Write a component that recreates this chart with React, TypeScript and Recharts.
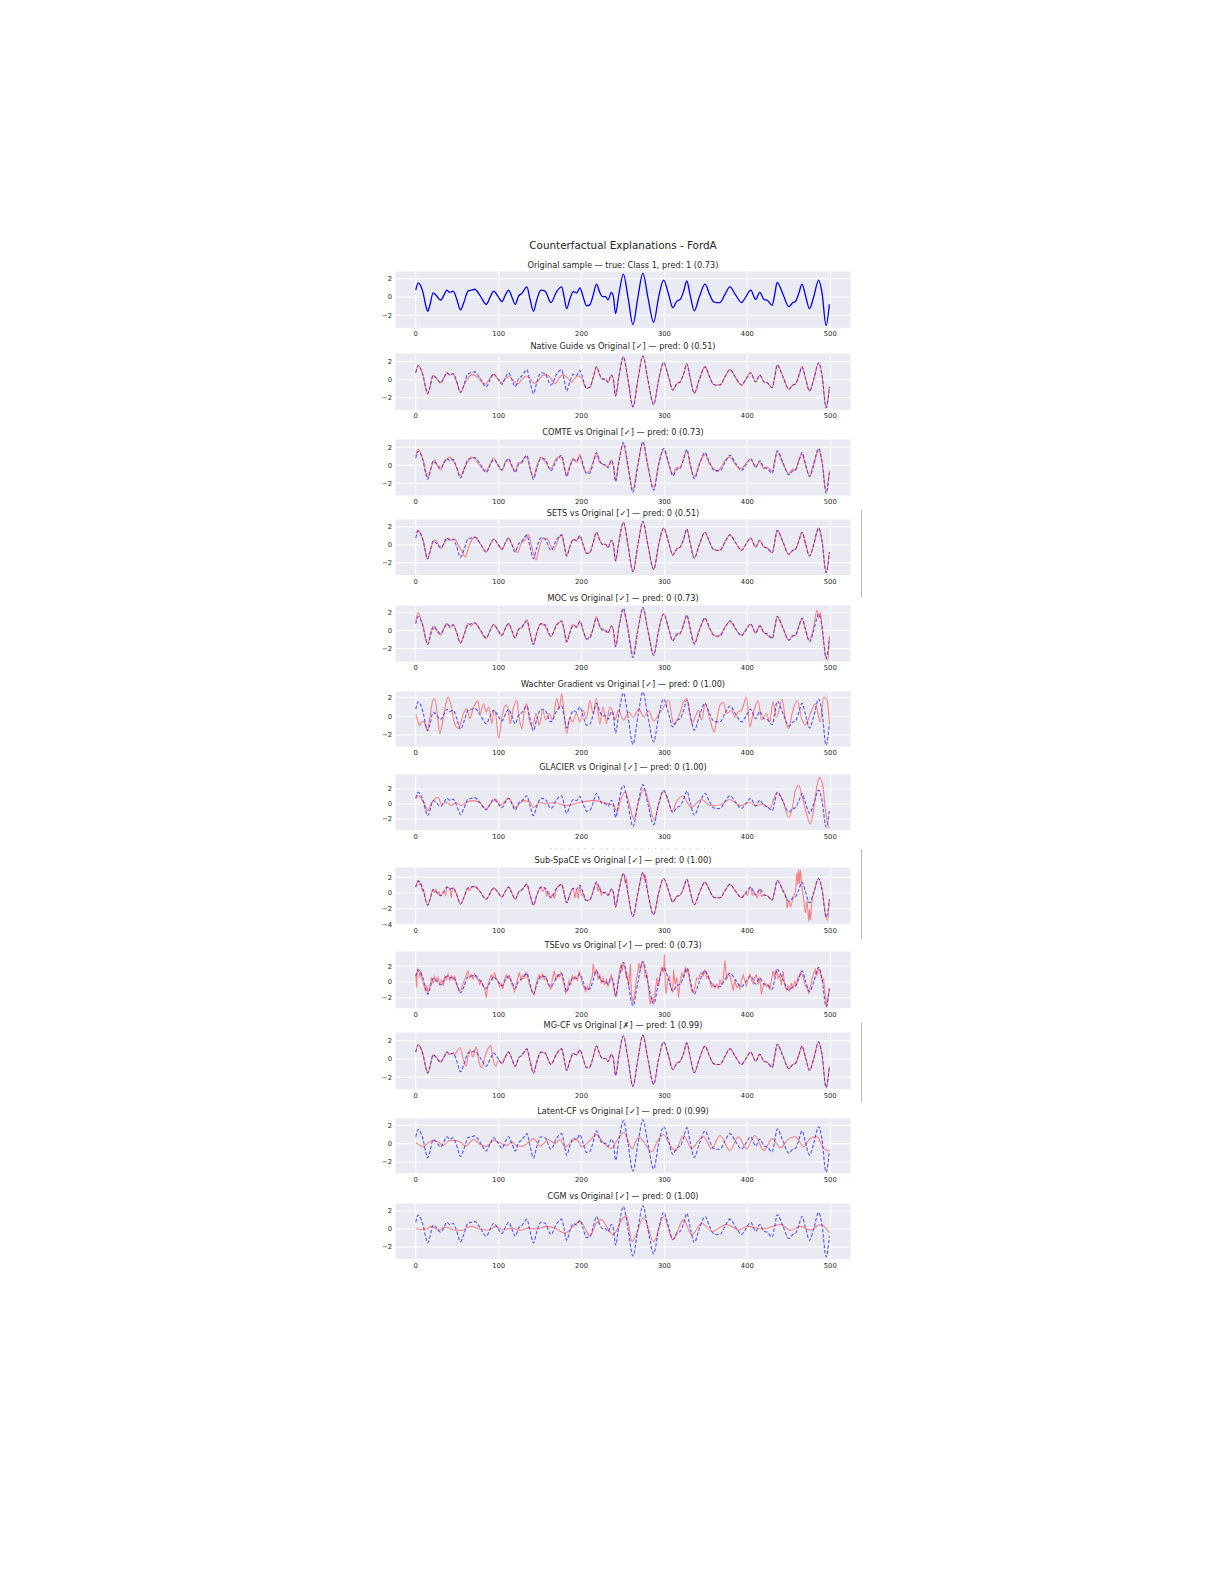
import React from 'react';
import { LineChart, Line, XAxis, YAxis, CartesianGrid } from 'recharts';

type P = [number, number];

// ---------- data (x = time step, y = value) ----------
const original: P[] = [
  [0, 0.75], [3, 1.55], [6, 1.2], [9, 0.4], [12, -0.9], [14.5, -1.55], [17, -0.9], [21, 0.45], [25, 0.15], [30, -0.35],
  [34, 0.2], [37.5, 0.75], [41, 0.5], [45, 0.65], [49, -0.1], [54, -1.4], [58, -0.6], [63, 0.65], [67, 0.75], [71, 0.85],
  [78, 0.1], [85, -0.8], [90, 0.05], [94, 0.65], [99, 0.1], [104, -0.5], [108, 0.2], [112, 0.75], [116, 0], [120, -0.8],
  [124, 0.1], [128, 0.4], [131, 0.8], [134, 1.1], [138, -0.3], [142, -1.55], [146, -0.3], [151, 0.75], [156, 0.65], [163, -0.6],
  [170, 0.6], [176, 1.1], [179, 0], [182, -1.25], [186, -0.2], [190, 0.6], [194, 0.45], [198, 1.0], [202, 0], [206, -0.95],
  [210, -0.85], [214, 0.2], [218, 1.4], [222, 0.5], [225, 0.05], [229, 0.05], [232, -0.3], [236, 0.5], [238.5, 0], [241, -1.8],
  [245, 0.3], [250.5, 2.5], [256, 0], [262, -3.0], [268, 0], [274, 2.6], [280, 0], [287, -2.75], [293, 0], [299, 1.85],
  [305, 0.3], [310, -1.15], [315, -0.45], [319, -0.25], [323, 0.6], [327, 1.75], [331, 0.2], [336, -1.5], [342, 0], [349, 1.4],
  [354, 0.4], [359, -0.5], [363, -0.6], [367, -0.6], [373, 0.3], [379, 1.1], [386, 0.2], [393, -0.6], [398, 0], [404, 0.75],
  [410, -0.25], [415, 0.5], [420, -0.25], [424, -0.35], [430, -0.9], [433, 0.3], [436, 1.6], [443, 0.3], [450, -1.05], [455, -0.6],
  [458, -0.5], [462, 0.4], [466, 1.4], [470, 0.2], [475, -1.25], [480, 0], [486, 1.85], [490, 0.5], [495, -3.1], [499, -0.8],
];

// Native Guide: differs from the original between ~60 and ~206
const nativeGuideSegment: P[] = [
  [60, -0.3], [64, 0.3], [69, 0.55], [74, 0.3], [79, -0.2], [84, -0.5], [89, 0.1], [93, 0.55], [98, 0.2], [103, -0.35],
  [108, 0.1], [113, 0.35], [118, -0.15], [123, -0.45], [128, 0], [133, 0.4], [138, 0.1], [143, -0.4], [148, -0.1], [153, 0.45],
  [158, 0.55], [163, 0.1], [168, -0.45], [173, 0.2], [178, 0.55], [183, 0.2], [188, -0.3], [193, 0.3], [198, 0.4], [202, -0.3],
  [206, -0.95],
];

const comte: P[] = [
  [0, 1.0], [3, 1.8], [6, 1.3], [9, 0.6], [12, -0.6], [14.5, -1.3], [17, -0.7], [21, 0.3], [23, 0.6], [25, 0.2],
  [30, -0.5], [34, 0.4], [37.5, 0.6], [41, 0.9], [45, 0.5], [49, -0.2], [54, -1.2], [58, -0.4], [63, 0.4], [67, 0.9],
  [71, 0.7], [78, -0.1], [85, -0.6], [90, 0.2], [94, 0.8], [99, 0], [104, -0.6], [108, 0.4], [112, 0.6], [116, -0.2],
  [120, -0.6], [124, 0.3], [128, 0.2], [131, 0.9], [134, 0.9], [138, -0.5], [142, -1.3], [146, -0.1], [151, 0.9], [156, 0.4],
  [163, -0.4], [170, 0.8], [176, 0.9], [179, -0.2], [182, -1.0], [186, 0], [190, 0.8], [194, 0.3], [198, 1.2], [202, -0.2],
  [206, -0.8], [210, -0.6], [214, 0.4], [218, 1.2], [222, 0.3], [225, 0.2], [229, -0.1], [232, -0.1], [236, 0.6], [238.5, -0.2],
  [241, -1.6], [245, 0.5], [250.5, 2.3], [256, -0.2], [262, -2.7], [268, 0.2], [274, 2.4], [280, -0.2], [287, -2.5], [293, 0.2],
  [299, 1.7], [305, 0.1], [310, -1.0], [315, -0.2], [319, -0.4], [323, 0.8], [327, 1.6], [331, 0], [336, -1.3], [342, 0.2],
  [349, 1.2], [354, 0.2], [359, -0.3], [363, -0.7], [367, -0.4], [373, 0.5], [379, 0.9], [386, 0], [393, -0.4], [398, 0.2],
  [404, 0.6], [410, -0.1], [415, 0.3], [420, -0.4], [424, -0.2], [430, -0.7], [433, 0.5], [436, 1.4], [443, 0.1], [450, -0.9],
  [455, -0.4], [458, -0.6], [462, 0.6], [466, 1.2], [470, 0], [475, -1.1], [480, 0.2], [486, 1.7], [490, 0.3], [495, -2.8],
  [499, -0.6],
];

// SETS: shifted start segment, identical to the original after ~182
const setsSegment: P[] = [
  [0, 1.3], [2.5, 1.6], [6, 1.1], [9, 0.5], [11.5, -0.6], [13.5, -1.6], [17, -0.8], [20, 0.1], [23, 0.55], [27, 0.1],
  [31, -0.35], [35, 0.2], [39, 0.75], [43, 0.5], [47, 0.65], [51, 0], [55, -0.6], [60, -1.35], [64, -0.2], [68, 0.6],
  [71, 0.85], [78, 0.1], [85, -0.8], [90, 0.05], [94, 0.65], [99, 0.1], [104, -0.5], [108, 0.2], [112, 0.75], [116, 0],
  [120, -0.6], [123, -0.85], [127, 0.1], [131, 0.5], [136, 1.1], [140, -0.3], [145, -1.7], [149, -0.3], [154, 0.75], [159, 0.65],
  [166, -0.6], [172, 0.6], [176, 1.1], [179, 0], [182, -1.25],
];

const moc: P[] = [
  [0, 1.0], [3, 2.0], [6, 1.3], [9, 0.4], [12, -0.9], [14.5, -1.5], [17, -0.7], [19, 0.2], [21, 0.1], [23, 0.5],
  [25, 0.0], [30, -0.5], [34, 0.3], [37.5, 0.8], [41, 0.3], [45, 0.7], [49, -0.1], [54, -1.4], [58, -0.5], [63, 0.8],
  [67, 0.5], [71, 0.9], [78, 0.0], [85, -0.9], [90, 0.1], [94, 0.7], [99, 0.0], [104, -0.6], [108, 0.3], [112, 0.8],
  [116, -0.1], [120, -0.8], [124, 0.2], [128, 0.3], [131, 0.8], [134, 1.2], [138, -0.3], [142, -1.5], [146, -0.2], [151, 0.8],
  [156, 0.5], [163, -0.7], [170, 0.7], [176, 1.0], [179, 0.1], [182, -1.3], [186, -0.1], [190, 0.7], [194, 0.3], [198, 1.1],
  [202, 0.0], [206, -0.9], [210, -0.7], [214, 0.3], [218, 1.6], [222, 0.4], [225, 0.2], [229, -0.1], [232, -0.2], [236, 0.5],
  [238.5, -0.1], [241, -1.8], [245, 0.4], [250.5, 2.3], [253, 1.5], [256, 0.3], [262, -2.6], [268, 0.2], [274, 2.4], [280, 0.1],
  [287, -2.6], [293, 0.1], [299, 1.9], [305, 0.2], [310, -1.1], [315, -0.3], [319, -0.4], [323, 0.7], [327, 1.6], [331, 0.3],
  [336, -1.4], [342, 0.1], [349, 1.3], [354, 0.3], [359, -0.4], [363, -0.7], [367, -0.5], [373, 0.4], [379, 1.0], [386, 0.1],
  [393, -0.5], [398, 0.1], [404, 0.7], [410, -0.3], [415, 0.6], [420, -0.2], [424, -0.5], [430, -0.8], [433, 0.3], [436, 1.5],
  [443, 0.2], [450, -1.1], [455, -0.5], [458, -0.6], [462, 0.5], [466, 1.3], [470, 0.1], [475, -1.1], [480, 0.4], [484, 2.3],
  [486, 1.4], [488, 2.0], [490, 0.3], [495, -3.0], [497, -3.3], [499, -0.6],
];

const wachter: P[] = [
  [0, 0.2], [2, -0.3], [4.5, -1.0], [7, -0.6], [9.5, -0.55], [12, -1.1], [14, -1.5], [17, -0.2], [21, 1.8], [23, 1.9],
  [26, 0.2], [29, -1.85], [33, -0.3], [36, 1.2], [39, 2.05], [43, 1.0], [46, -0.5], [49, -1.15], [51.5, -1.3], [55, -0.5],
  [57.5, 0.3], [62, 0.8], [65, -0.25], [69.6, 0.9], [75, 1.65], [77.6, 0.3], [82, 1.35], [85, 0.45], [88, 1.0], [92, -0.8],
  [94.5, 0.7], [97, -0.1], [100, -2.4], [104, -0.1], [108, 1.2], [111, 1.0], [114, -0.8], [118, 1.0], [122, 1.7], [124, 0.3],
  [128, -1.3], [131, 0.6], [134, 1.35], [137, -0.4], [141, -1.15], [145, 0.3], [149, -0.95], [153, 0.65], [157, -0.4], [161, 0.3],
  [165, -0.4], [170, 1.9], [173, 0.8], [176, 2.4], [179, 0.3], [182, -1.85], [186, -0.1], [189, -0.6], [194, 0.3], [198, -0.6],
  [202, 0.65], [206, -0.25], [210, 1.7], [214, 0.3], [218, 1.9], [222, -0.8], [226, 1.0], [230, -0.8], [234, 1.0], [238.5, 0.3],
  [240.5, -0.4], [244.5, 0.65], [250.6, -0.4], [257, 0.45], [262.6, -0.1], [269, 0.8], [275, -0.1], [281, 0.6], [287, -0.5], [293, 0.2],
  [299, 1.0], [305, 1.7], [311, -0.8], [317, -0.1], [323, 1.5], [327, 1.9], [333, -0.8], [337, -0.1], [341, 0.65], [345, -0.4],
  [349, 1.35], [355, -0.4], [360, -1.7], [363, -0.4], [367, 1.2], [371, 1.5], [375, 0.3], [381, 0.65], [385, -0.1], [389, 0.5],
  [393, 0.65], [399, 2.05], [403, -1.15], [407, 0.3], [413, 1.7], [417, -0.4], [423, 0.3], [427, -0.6], [431, 1.55], [435, -0.1],
  [442, 1.8], [446, -0.4], [450, -1.3], [454, 0.3], [460, 1.7], [466, -0.4], [470, -0.95], [476, 0.3], [482, 1.35], [488, -0.6],
  [492, 2.05], [496, 1.8], [499, -0.8],
];

const glacier: P[] = [
  [0, 0.65], [3, 1.1], [7, 0.65], [10, 0.2], [14.5, -0.9], [18, -0.1], [21, 0.45], [27, 0.9], [31, 0], [37, 0.2],
  [43, -0.2], [49, 0.2], [55, -0.2], [61, 0.2], [69, 0.45], [77, 0.2], [85, -0.65], [90, 0], [96, 0.65], [102, -0.2],
  [112, 0.75], [120, -0.45], [130, 0.45], [138, 0.2], [142, -0.45], [150, 0.2], [158, 0], [166, 0.2], [182, -0.2], [198, 0.2],
  [214, 0.45], [230, 0.1], [238.5, -0.2], [243, -1.1], [247, 0.5], [252.6, 1.6], [257, 0.3], [263, -2.0], [268, 0], [275, 2.0],
  [281, 0.3], [287.6, -2.2], [293, 0], [299, 1.7], [305, 0.3], [309, -1.0], [314, 0.2], [322, 1.1], [332, -0.45], [345, 0.6],
  [355, -0.2], [368, -0.1], [378, 0.6], [392, -0.2], [402, 0.2], [411, -0.2], [419, 0], [427, -0.6], [435.6, 1.5], [442, 0.7],
  [450, -1.8], [454, -0.65], [458, 1.8], [462, 2.45], [466, 1.1], [472, -1.55], [476, -2.65], [480, -0.65], [484, 2.45], [487, 3.55],
  [491, 2.45], [494, -0.65], [497, -2.65], [499, -3.25],
];

const subSpace: P[] = [
  [0, 0.75], [3, 1.55], [5, 1.0], [6, 1.2], [8, 0.2], [9, 0.5], [12, -0.9], [14.5, -1.55], [17, -0.9], [21, 0.45],
  [23, 0.0], [24, 0.5], [25, 0.15], [27, -0.2], [28, 0.2], [30, -0.35], [34, 0.2], [36, -0.3], [37.5, 0.75], [41, 0.5],
  [43, -0.6], [44, 0.4], [45, 0.65], [49, -0.1], [54, -1.4], [58, -0.6], [63, 0.65], [65, 0.3], [67, 0.75], [71, 0.85],
  [78, 0.1], [85, -0.8], [90, 0.05], [94, 0.65], [99, 0.1], [104, -0.5], [108, 0.2], [112, 0.75], [116, 0], [120, -0.8],
  [124, 0.1], [128, 0.4], [134, 1.1], [138, -0.3], [142, -1.55], [146, -0.3], [151, 0.75], [153, 0.2], [156, 0.65], [158, -0.4],
  [160, 0.2], [163, -0.6], [165, -0.1], [167, -0.7], [170, 0.6], [176, 1.1], [179, 0], [182, -1.25], [186, -0.2], [190, 0.6],
  [192, -0.6], [194, 0.45], [196, -0.7], [198, 1.0], [200, -0.3], [202, 0], [204, -0.9], [206, -0.95], [210, -0.85], [214, 0.2],
  [218, 1.4], [220, 0.2], [222, 0.8], [224, -0.3], [225, 0.05], [229, 0.05], [232, -0.3], [236, 0.5], [238.5, 0], [241, -1.8],
  [245, 0.3], [250.5, 2.5], [253, 1.2], [254, 1.9], [256, 0], [262, -3.0], [268, 0], [274, 2.6], [276, 1.6], [277, 2.3],
  [280, 0], [287, -2.75], [293, 0], [299, 1.85], [305, 0.3], [310, -1.15], [315, -0.45], [319, -0.25], [323, 0.6], [327, 1.75],
  [331, 0.2], [336, -1.5], [342, 0], [349, 1.4], [354, 0.4], [359, -0.5], [363, -0.6], [367, -0.6], [373, 0.3], [379, 1.1],
  [386, 0.2], [393, -0.6], [398, 0], [400, -0.3], [402, 0.4], [404, 0.75], [406, -0.3], [408, 0.2], [410, -0.25], [412, -0.6],
  [415, 0.5], [417, -0.4], [420, -0.25], [424, -0.35], [430, -0.9], [433, 0.3], [436, 1.6], [443, 0.3], [447, -0.5], [448, -2.0],
  [450, -1.0], [452, -1.8], [455, -0.6], [458, 0.2], [460, 2.6], [461, 1.0], [462, 3.0], [463, 1.2], [464, 2.9], [466, 0.5],
  [468, -0.8], [470, -2.5], [472, -1.0], [474, -3.6], [475, -2.0], [476, -3.4], [478, -1.0], [480, 0], [486, 1.85], [490, 0.5],
  [495, -3.1], [497, -3.5], [499, -0.8],
];

const tsevo: P[] = [
  [0, 1.0], [1, -0.7], [2, 1.6], [4, 1.2], [5, 0.5], [6, 1.4], [8, 0.2], [10, -0.5], [12, -1.2], [13, -0.4],
  [15, -1.3], [17, -0.6], [19, 0.6], [21, -0.2], [23, 0.7], [25, 0.1], [27, 0.6], [29, -0.3], [31, 0.2], [33, -0.5],
  [35, 0.7], [37, 0.3], [39, 1.0], [41, 0.2], [43, 0.8], [45, 0.3], [47, 0.7], [49, -0.3], [51, -0.8], [53, -1.2],
  [55, -0.9], [57, -0.2], [59, 0.3], [61, 0.9], [63, 1.4], [65, 0.5], [67, 0.9], [69, 0.4], [71, 1.0], [73, 0.5],
  [75, 0.3], [77, -0.3], [79, 0.2], [81, -0.5], [83, -0.8], [85, -2.0], [87, -0.4], [89, 0.3], [91, 0.9], [93, 0.3],
  [95, 1.2], [97, 0.4], [99, 0.1], [101, -0.6], [103, -0.2], [105, -0.9], [107, 0.3], [109, 0.9], [111, 0.4], [113, 0.8],
  [115, -0.1], [117, -0.5], [119, -1.2], [121, -0.4], [123, 0.4], [125, 1.2], [127, 0.2], [129, 0.8], [131, 0.5], [133, 1.2],
  [135, 0.6], [137, -0.2], [139, -0.9], [141, -1.3], [143, -1.6], [145, -0.4], [147, 0.4], [149, 0.9], [151, 0.4], [153, 1.0],
  [155, 0.3], [157, 0.7], [159, -0.2], [161, -0.5], [163, -0.9], [165, 0.5], [167, 1.4], [169, 0.2], [171, 0.9], [173, 0.6],
  [175, 1.2], [177, 0.5], [179, -0.4], [181, -1.4], [183, -0.8], [185, 0.2], [187, -0.3], [189, 0.8], [191, 0.3], [193, 0.7],
  [195, 0.2], [197, 1.3], [199, 0.7], [201, -0.2], [203, -0.7], [205, -1.2], [207, -0.6], [209, -1.0], [211, 0.1], [213, 0.7],
  [214, 2.3], [216, 1.0], [218, 1.6], [220, 0.3], [222, 0.9], [224, -0.2], [226, 0.5], [228, -0.3], [230, 0.3], [232, -0.6],
  [234, 0.4], [236, 0.9], [238, -0.3], [240, -1.4], [242, -1.9], [244, 0.2], [246, 1.4], [247, 2.2], [249, 1.3], [250, 2.3],
  [252, 2.0], [254, 0.5], [255, 1.0], [257, -0.5], [259, 2.3], [260, -1.5], [262, -2.6], [264, -1.6], [266, 0.3], [268, 1.2],
  [269, 2.4], [271, 1.5], [273, 2.5], [275, 2.2], [277, 0.6], [279, 1.0], [281, -1.1], [283, -2.8], [285, -2.0], [287, -2.5],
  [289, -1.0], [291, 0.5], [293, -0.5], [295, 1.0], [297, 1.8], [299, 1.2], [300, 3.5], [301, -0.5], [302, -1.5], [304, 0.2],
  [306, 0.8], [308, -0.8], [310, -1.3], [311, 1.5], [313, -0.3], [315, 0.6], [317, -2.0], [319, 0.2], [321, 1.1], [323, 0.6],
  [325, 1.8], [327, 1.2], [329, 1.6], [331, -0.2], [333, -1.1], [335, -1.4], [337, -0.5], [339, 0.5], [341, 0.3], [343, 1.0],
  [345, 1.2], [347, 0.8], [349, 1.6], [351, 0.5], [353, 0.8], [355, -0.2], [357, -0.6], [359, -0.2], [361, -0.8], [363, -0.3],
  [365, -0.8], [367, 0.2], [369, -0.3], [371, 0.5], [373, 2.7], [375, 0.3], [377, 1.0], [379, 0.8], [381, -0.1], [383, -1.1],
  [385, 0.3], [387, -0.7], [389, -0.4], [391, -0.9], [393, 0.2], [395, 0.9], [397, 0.2], [399, -0.5], [401, 0.4], [403, 1.0],
  [405, 0.2], [407, -0.2], [409, 0.6], [411, 0.9], [413, -0.3], [415, 0.6], [417, -1.6], [419, -0.5], [421, -0.1], [423, -0.6],
  [425, -0.3], [427, -1.0], [429, 0.2], [431, 1.4], [433, 0.6], [435, 1.6], [437, 0.5], [439, 0.9], [441, -0.4], [443, 1.4],
  [445, -0.3], [447, -1.0], [449, -0.5], [451, -1.1], [453, -0.2], [455, -0.8], [457, 0.1], [459, -0.4], [461, 0.5], [463, 0.8],
  [464, 1.2], [466, 1.0], [468, 0.3], [470, -0.5], [472, -0.7], [474, -1.4], [476, -0.6], [478, 0.4], [480, 1.0], [482, 1.6],
  [484, 0.9], [486, 1.7], [488, 1.3], [490, 0.2], [492, 0.4], [494, -1.7], [496, -3.2], [497, -2.0], [499, -0.9],
];

// MG-CF: differs from the original between ~47 and ~100
const mgcfSegment: P[] = [
  [47, 0.5], [49.5, 0.8], [53.5, 1.25], [57, 0.1], [60.7, -0.8], [63, 0.3], [65.6, 1.0], [69, 0.2], [72.8, 1.35], [76, -0.25],
  [79.6, -0.95], [83, 0.1], [86.5, 1.0], [90.5, 1.45], [93, 0.1], [96.5, -0.8], [100, -0.1],
];

const latentCf: P[] = [
  [0, 0.1], [4, -0.1], [9, -0.35], [15, 0.1], [21, 0.35], [27, 0.2], [33, -0.2], [41, 0.35], [47, 0.35], [53, 0.2],
  [60, -0.25], [70, 0.45], [78, -0.1], [85, -0.3], [94, 0.35], [102, 0.1], [110, -0.2], [116, 0.2], [122, -0.25], [128, -0.3],
  [134, 0], [142, 0.55], [150, -0.25], [160, 0.45], [168, 0], [174, 0.45], [180, -0.35], [188, 0.2], [194, 0.55], [200, -0.35],
  [206, 0], [212, 0.55], [218, 1.0], [224, 0.35], [230, -0.2], [236, -0.55], [242, 0.25], [251, 1.25], [261, -0.55], [269, 0.75],
  [275, 0.2], [285, -0.9], [291, 0.2], [299, 1.0], [307, -0.2], [313, -0.75], [323, 0.9], [333, -0.55], [341, 0.35], [347, 0.75],
  [357, -0.55], [367, 0.9], [379, -0.75], [389, 0.75], [399, -0.55], [409, 0.9], [420, -0.75], [430, 0.55], [440, -0.45], [450, 0.55],
  [458, 0.75], [468, -0.35], [476, 0.6], [484, 0.75], [490, -0.2], [496, -0.75], [499, -0.65],
];

const cgm: P[] = [
  [0, 0.1], [7, -0.05], [13, 0], [19, 0.3], [27, -0.1], [37, 0.2], [47, -0.1], [55, -0.15], [67, 0.3], [77, 0],
  [88, -0.1], [96, 0.3], [106, -0.1], [116, 0.1], [126, -0.15], [136, 0.1], [146, 0], [158, 0.3], [168, 0.1], [180, -0.45],
  [190, 0.3], [198, 0.85], [206, -0.25], [210, -0.8], [218, 0.65], [224, 1.05], [230, 0.3], [238, -0.65], [248.6, 1.05], [254, 1.5],
  [261, -1.4], [275, 1.25], [287, -1.4], [299, 1.4], [310, -1.2], [323, 1.05], [333, -0.65], [345, 0.65], [357, -0.25], [375, 0.5],
  [390, -0.1], [400, 0.3], [418, 0], [440, 0.5], [452, -0.15], [464, 0.3], [476, -0.1], [488, 0.5], [499, -0.4],
];

const X_TICKS = [0, 100, 200, 300, 400, 500];
const Y_TICKS = [-2, 0, 2];
const Y_TICKS_WIDE = [-4, -2, 0, 2];

const splice = (base: P[], seg: P[], a: number, b: number): P[] => [
  ...base.filter((p) => p[0] < a),
  ...seg,
  ...base.filter((p) => p[0] > b),
];
const toData = (pts: P[]) => pts.map(([x, y]) => ({ x, y }));

// ---------- layout ----------
const PLOT_LEFT = 395;
const PLOT_RIGHT = 851;
const Y_AXIS_W = 30;
const X_AXIS_H = 14;
const X_DOMAIN: [number, number] = [-25, 525];
const FONT = '"DejaVu Sans", "Liberation Sans", sans-serif';
const TEXT = '#262626';
const CENTER = (PLOT_LEFT + PLOT_RIGHT) / 2;

type Panel = {
  title: string;
  top: number;
  bottom: number;
  domain: [number, number];
  ticks: number[];
  cf: P[] | null;
  cfType: 'monotone' | 'linear';
};

const panels: Panel[] = [
  { title: 'Original sample \u2014 true: Class 1, pred: 1 (0.73)', top: 271.3, bottom: 328.7, domain: [-3.42, 2.84], ticks: Y_TICKS, cf: null, cfType: 'monotone' },
  { title: 'Native Guide vs Original [\u2713] \u2014 pred: 0 (0.51)', top: 352.7, bottom: 410, domain: [-3.38, 2.93], ticks: Y_TICKS, cf: splice(original, nativeGuideSegment, 58, 207), cfType: 'monotone' },
  { title: 'COMTE vs Original [\u2713] \u2014 pred: 0 (0.73)', top: 439, bottom: 496, domain: [-3.4, 2.9], ticks: Y_TICKS, cf: comte, cfType: 'monotone' },
  { title: 'SETS vs Original [\u2713] \u2014 pred: 0 (0.51)', top: 519.3, bottom: 576, domain: [-3.44, 2.87], ticks: Y_TICKS, cf: splice(original, setsSegment, 0, 182), cfType: 'monotone' },
  { title: 'MOC vs Original [\u2713] \u2014 pred: 0 (0.73)', top: 604.5, bottom: 661.5, domain: [-3.5, 2.85], ticks: Y_TICKS, cf: moc, cfType: 'monotone' },
  { title: 'Wachter Gradient vs Original [\u2713] \u2014 pred: 0 (1.00)', top: 690.7, bottom: 746.7, domain: [-3.29, 2.71], ticks: Y_TICKS, cf: wachter, cfType: 'monotone' },
  { title: 'GLACIER vs Original [\u2713] \u2014 pred: 0 (1.00)', top: 773.7, bottom: 830.3, domain: [-3.55, 4.0], ticks: Y_TICKS, cf: glacier, cfType: 'monotone' },
  { title: 'Sub-SpaCE vs Original [\u2713] \u2014 pred: 0 (1.00)', top: 866.7, bottom: 925, domain: [-4.12, 3.32], ticks: Y_TICKS_WIDE, cf: subSpace, cfType: 'monotone' },
  { title: 'TSEvo vs Original [\u2713] \u2014 pred: 0 (0.73)', top: 951.3, bottom: 1009, domain: [-3.38, 3.92], ticks: Y_TICKS, cf: tsevo, cfType: 'linear' },
  { title: 'MG-CF vs Original [\u2717] \u2014 pred: 1 (0.99)', top: 1032, bottom: 1089.7, domain: [-3.35, 2.94], ticks: Y_TICKS, cf: splice(original, mgcfSegment, 46, 101), cfType: 'monotone' },
  { title: 'Latent-CF vs Original [\u2713] \u2014 pred: 0 (0.99)', top: 1118, bottom: 1173.7, domain: [-3.27, 2.8], ticks: Y_TICKS, cf: latentCf, cfType: 'monotone' },
  { title: 'CGM vs Original [\u2713] \u2014 pred: 0 (1.00)', top: 1202.7, bottom: 1259.3, domain: [-3.4, 2.9], ticks: Y_TICKS, cf: cgm, cfType: 'monotone' },
];

const minusFmt = (v: number) => String(v).replace('-', '\u2212');

function PanelChart({ p }: { p: Panel }) {
  const plotH = p.bottom - p.top;
  const origData = toData(original);
  return (
    <>
      <div
        style={{
          position: 'absolute',
          left: CENTER - 200,
          width: 400,
          top: p.top - 6.8 - 6,
          height: 12,
          lineHeight: '12px',
          fontSize: 8.2,
          textAlign: 'center',
          color: TEXT,
          fontFamily: FONT,
          whiteSpace: 'nowrap',
        }}
      >
        {p.title}
      </div>
      <div style={{ position: 'absolute', left: PLOT_LEFT - Y_AXIS_W, top: p.top }}>
        <LineChart
          width={Y_AXIS_W + PLOT_RIGHT - PLOT_LEFT}
          height={plotH + X_AXIS_H}
          margin={{ top: 0, right: 0, bottom: 0, left: 0 }}
        >
          <CartesianGrid fill="#EAEAF2" stroke="#FFFFFF" strokeWidth={1} />
          <XAxis
            type="number"
            dataKey="x"
            domain={X_DOMAIN}
            ticks={X_TICKS}
            allowDataOverflow
            axisLine={false}
            tickLine={false}
            tickSize={0}
            tickMargin={3.2}
            height={X_AXIS_H}
            interval={0}
            tick={{ fontSize: 6.8, fill: TEXT, fontFamily: FONT }}
          />
          <YAxis
            type="number"
            domain={p.domain}
            ticks={p.ticks}
            allowDataOverflow
            axisLine={false}
            tickLine={false}
            tickSize={0}
            tickMargin={3}
            width={Y_AXIS_W}
            interval={0}
            tickFormatter={minusFmt}
            tick={{ fontSize: 6.8, fill: TEXT, fontFamily: FONT }}
          />
          {p.cf === null ? (
            <Line
              data={origData}
              dataKey="y"
              type="monotone"
              stroke="#0000EE"
              strokeWidth={1.3}
              dot={false}
              activeDot={false}
              isAnimationActive={false}
            />
          ) : (
            [
              <Line
                key="orig"
                data={origData}
                dataKey="y"
                type="monotone"
                stroke="#0000FF"
                strokeOpacity={0.65}
                strokeWidth={1.1}
                strokeDasharray="3.5 1.8"
                dot={false}
                activeDot={false}
                isAnimationActive={false}
              />,
              <Line
                key="cf"
                data={toData(p.cf)}
                dataKey="y"
                type={p.cfType}
                stroke="#FF0000"
                strokeOpacity={0.45}
                strokeWidth={1.1}
                dot={false}
                activeDot={false}
                isAnimationActive={false}
              />,
            ]
          )}
        </LineChart>
      </div>
    </>
  );
}

// thin grey artefact lines at the right edge of the figure
const sideLines: [number, number][] = [
  [510, 597],
  [849, 939],
  [1023, 1102],
];

// faint specks: clipped remnant of a text line between GLACIER and Sub-SpaCE
const remnantDots: number[] = [
  551, 556, 561, 569, 578, 584, 592, 601, 607, 613, 622, 628, 636, 641, 648, 655, 661, 668, 676, 683, 690, 697, 704, 711,
];

export default function App() {
  return (
    <div style={{ position: 'absolute', left: 0, top: 0, width: 1225, height: 1585, background: '#FFFFFF', fontFamily: FONT }}>
      <div
        style={{
          position: 'absolute',
          left: CENTER - 200,
          width: 400,
          top: 244.7 - 7,
          height: 14,
          lineHeight: '14px',
          fontSize: 10.4,
          textAlign: 'center',
          color: TEXT,
          whiteSpace: 'nowrap',
        }}
      >
        Counterfactual Explanations - FordA
      </div>
      {panels.map((p) => (
        <PanelChart key={p.title} p={p} />
      ))}
      {remnantDots.map((x) => (
        <div key={x} style={{ position: 'absolute', left: x, top: 848, width: 1, height: 1, background: '#C4C4C4' }} />
      ))}
      {sideLines.map(([a, b]) => (
        <div key={a} style={{ position: 'absolute', left: 861, top: a, width: 1, height: b - a, background: '#B8B8B8' }} />
      ))}
    </div>
  );
}
